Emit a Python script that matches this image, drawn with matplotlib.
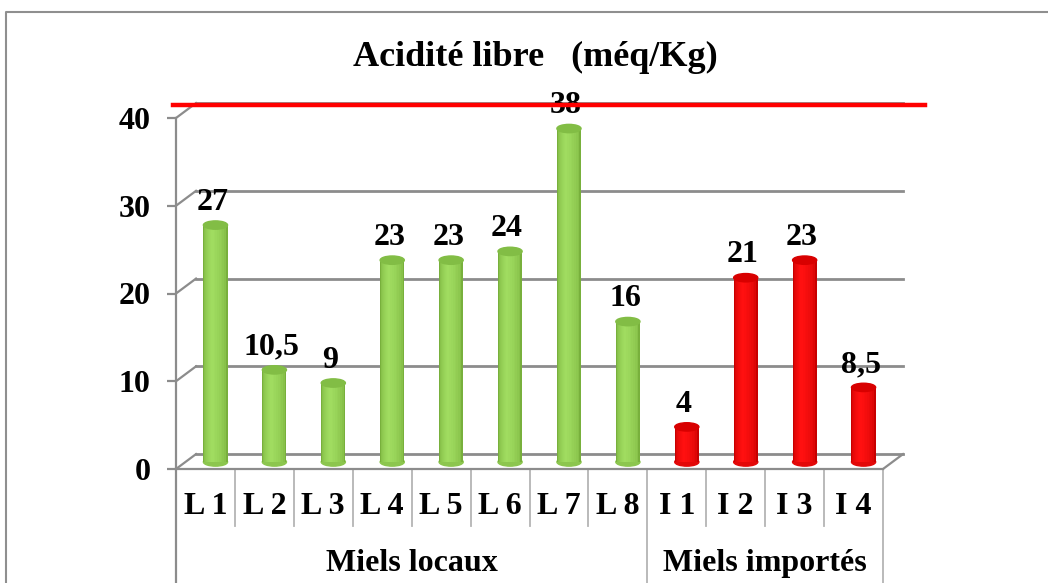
import numpy as np
import matplotlib.pyplot as plt
from matplotlib.patches import Ellipse
from matplotlib.lines import Line2D
from matplotlib.colors import to_rgb

# ── Data ──────────────────────────────────────────────────────────────────────
categories   = ["L 1", "L 2", "L 3", "L 4", "L 5", "L 6", "L 7", "L 8",
                "I 1", "I 2", "I 3", "I 4"]
groups       = ["Miels locaux", "Miels importés"]
group_sizes  = [8, 4]
values       = [27, 10.5, 9, 23, 23, 24, 38, 16, 4, 21, 23, 8.5]
yticks       = [0, 10, 20, 30, 40]
NORME        = 40          # limite d'acidité libre (méq/Kg)
# ────────────────────────────────────────────────────────────────────────────────

plt.rcParams['font.family'] = ['Liberation Serif', 'DejaVu Serif']
plt.rcParams['font.weight'] = 'bold'

GREEN = ("#78b03c", "#a0dc60", "#82bd45")    # (edge shade, highlight, top)
RED   = ("#c80000", "#ff1010", "#d80000")
GRID  = "#8c8c8c"
SEP   = "#b4b4b4"
FS    = 23

# pseudo-3D depth of the plot box, in data units
DX, DY = 0.34, 1.7
BAR_W  = 0.41
BAR_DX, BAR_DY = DX / 2, 0.8      # bars sit half-way into the depth
ELL_H  = 0.95

fig = plt.figure(figsize=(10.48, 5.83), dpi=100)
ax = fig.add_axes([176 / 1048, (583 - 469) / 583, 707 / 1048, 351 / 583])
n = len(categories)
ax.set_xlim(-0.5, n - 0.5)
ax.set_ylim(0, 40)

for s in ("top", "right"):
    ax.spines[s].set_visible(False)
for s in ("left", "bottom"):
    ax.spines[s].set_color(GRID)
    ax.spines[s].set_linewidth(1.6)

ax.set_xticks([])
ax.set_yticks(yticks)
ax.tick_params(axis="y", length=6.5, width=1.6, color=GRID, labelsize=FS, pad=12)

# back wall gridlines and their diagonal links to the front axis
for v in yticks:
    ax.plot([-0.5 + DX, n - 0.5 + DX], [v + DY, v + DY], color=GRID, lw=2,
            clip_on=False, zorder=1)
    ax.plot([-0.5, -0.5 + DX], [v, v + DY], color=GRID, lw=1.6,
            clip_on=False, zorder=1)
ax.plot([n - 0.5, n - 0.5 + DX], [0, DY], color=GRID, lw=1.6, clip_on=False, zorder=1)


def blend(c1, c2, t):
    a, b = np.array(to_rgb(c1)), np.array(to_rgb(c2))
    return tuple(a + (b - a) * t)


# cylinders: stacked bars of decreasing width give the round shading
xs = np.arange(n) + BAR_DX
colors = [GREEN] * group_sizes[0] + [RED] * group_sizes[1]
layers = 9
for x, v, (dark, light, cap) in zip(xs, values, colors):
    top = v + BAR_DY
    ax.add_patch(Ellipse((x, BAR_DY), BAR_W, ELL_H, color=blend(dark, light, 0.5),
                         zorder=2))
    for k in range(layers):
        t = k / (layers - 1)
        w = BAR_W * (1 - 0.9 * t)
        ax.bar(x - 0.05 * t, top - BAR_DY, bottom=BAR_DY, width=w,
               color=blend(dark, light, t ** 0.45), lw=0, zorder=3)
    ax.add_patch(Ellipse((x, top), BAR_W, ELL_H, color=cap, zorder=4))
    label = f"{v:g}".replace(".", ",")
    ax.annotate(label, (x - 0.05, top), xytext=(0, 11), textcoords="offset points",
                ha="center", va="baseline", fontsize=FS, zorder=5,
                annotation_clip=False)

# category table under the floor
ax.plot([-0.5, -0.5], [0, -13.5], color=GRID, lw=1.6, clip_on=False)
bounds = np.cumsum([0] + group_sizes)
for i in range(1, n + 1):
    low = -13.5 if i in bounds else -6.5
    ax.plot([i - 0.5, i - 0.5], [0, low], color=SEP, lw=1.3, clip_on=False)
for i, c in enumerate(categories):
    ax.text(i, -4.3, c, ha="center", va="center", fontsize=FS)
for g, a, b in zip(groups, bounds[:-1], bounds[1:]):
    ax.text((a + b - 1) / 2, -10.8, g, ha="center", va="center", fontsize=FS)

# limit line
ax.plot([-0.55, 12.22], [NORME + 1.45] * 2, color="#ff0000", lw=3.2,
        clip_on=False, zorder=6)

fig.text(535 / 1048, 1 - 57 / 583, "Acidité libre   (méq/Kg)", ha="center",
         va="center", fontsize=26)

# chart area frame
fig.add_artist(Line2D([6 / 1048, 6 / 1048, 1], [0, 1 - 12 / 583, 1 - 12 / 583],
                      color="#8f8f8f", lw=1.5, transform=fig.transFigure))

fig.savefig("out.png", dpi=100)
